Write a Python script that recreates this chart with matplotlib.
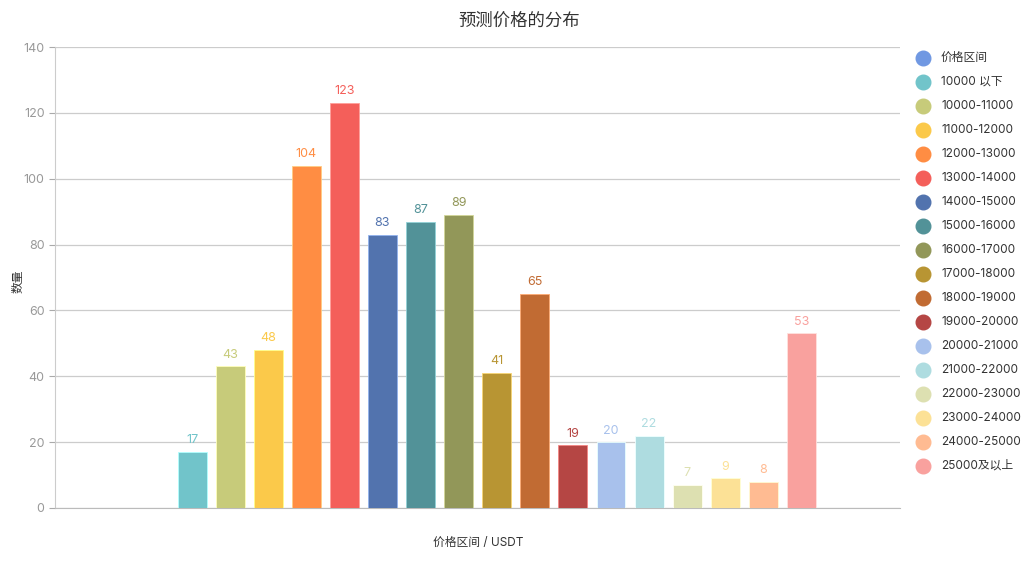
import matplotlib
matplotlib.use('Agg')
import matplotlib.pyplot as plt
from matplotlib.lines import Line2D
import matplotlib.colors as mcolors

plt.rcParams['font.family'] = ['Inter', 'Noto Sans CJK SC', 'DejaVu Sans']

# data
ranges = ['10000 以下', '10000-11000', '11000-12000', '12000-13000', '13000-14000',
          '14000-15000', '15000-16000', '16000-17000', '17000-18000', '18000-19000',
          '19000-20000', '20000-21000', '21000-22000', '22000-23000', '23000-24000',
          '24000-25000', '25000及以上']
counts = [17, 43, 48, 104, 123, 83, 87, 89, 41, 65, 19, 20, 22, 7, 9, 8, 53]
colors = ['#71c4ca', '#c7cb7a', '#fbc94a', '#ff8d43', '#f45f5a', '#5273ae',
          '#529298', '#929759', '#b89533', '#c16b33', '#b54644', '#a8c1ec',
          '#aedce0', '#dde0b1', '#fce196', '#ffbb92', '#f9a19e']
legend_first = '价格区间'
legend_first_color = '#7098e2'

W, H = 1028, 564
fig = plt.figure(figsize=(W / 100, H / 100), dpi=100)
ax = fig.add_axes([55 / W, 1 - 508 / H, (900 - 55) / W, (508 - 47) / H])

x = list(range(len(counts)))
bars = ax.bar(x, counts, width=0.76, color=colors, zorder=3)
for b, c in zip(bars, colors):
    light = tuple(min(1, v + 0.25) for v in mcolors.to_rgb(c))
    b.set_edgecolor(light)
    b.set_linewidth(0.6)

for xi, v, c in zip(x, counts, colors):
    ax.annotate(str(v), (xi, v), xytext=(0, 4), textcoords='offset points',
                ha='center', va='bottom', color=c, fontsize=9)

ax.set_xlim(-3.6, len(counts) - 1 + 2.59)
ax.set_ylim(0, 140)
ax.set_yticks(range(0, 141, 20))
ax.set_xticks([])
ax.yaxis.grid(True, color='#cccccc', linewidth=0.9, zorder=0)
ax.tick_params(axis='y', colors='#aaaaaa', labelcolor='#999999', labelsize=9,
               length=4, width=0.8)
for s in ['top', 'right']:
    ax.spines[s].set_visible(False)
ax.spines['left'].set_color('#cccccc')
ax.spines['bottom'].set_color('#bbbbbb')

fig.text(519 / W, 1 - 21 / H, '预测价格的分布', ha='center', va='center',
         fontsize=12.5, color='#333333')
fig.text(478 / W, 1 - 543 / H, '价格区间 / USDT', ha='center', va='center',
         fontsize=8.5, color='#333333')
fig.text(19 / W, 1 - 281 / H, '数量', ha='center', va='center', rotation=90,
         fontsize=8.5, color='#333333')

# legend drawn by hand
labels = [legend_first] + ranges
lcolors = [legend_first_color] + colors
for i, (lab, c) in enumerate(zip(labels, lcolors)):
    yy = 1 - (58 + 24 * i) / H
    fig.add_artist(Line2D([923 / W], [yy], marker='o', markersize=10.5,
                          color=c, linestyle='none', transform=fig.transFigure))
    fig.text(941 / W, yy, lab, ha='left', va='center', fontsize=8.5, color='#333333')

fig.savefig('out.png', dpi=100)
